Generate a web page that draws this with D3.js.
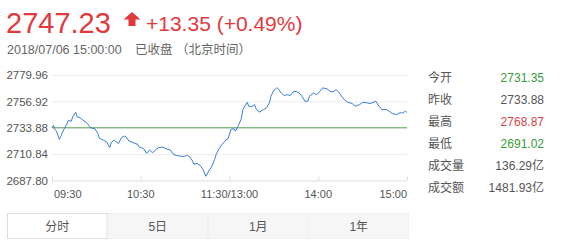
<!DOCTYPE html>
<html>
<head>
<meta charset="utf-8">
<script src="https://cdn.jsdelivr.net/npm/d3@7"></script>
<style>
  body { margin: 0; background: #fff; }
  svg { font-family: Arial, "Liberation Sans", "Noto Sans CJK SC", sans-serif; }
</style>
</head>
<body>
<div id="chart"></div>
<script>
// trading minutes since 09:30 (lunch break removed)
const minutes = [0,1,2,3,5,6,8,10,11,13,14,16,17,19,21,24,26,29,31,32,35,37,39,40,42,44,45,47,49,50,52,54,56,58,59,62,64,66,68,70,72,75,77,80,82,84,86,89,91,93,95,96,98,100,102,104,
  106,108,110,111,113,115,118,119,121,123,124,126,128,129,132,133,135,137,138,140,143,145,147,148,150,152,153,155,157,159,161,163,165,167,169,171,173,174,177,179,181,183,186,188,190,192,194,196,198,200,203,205,208,210,213,215,217,219,221,223,226,228,230,233,235,237,239,240]
const prices = [2733.9,2735.9,2732.4,2730.9,2723.7,2726.6,2732.4,2736.8,2740.2,2739.6,2743.4,2747.4,2743.4,2742.6,2740.5,2737.6,2733.9,2733.0,2728.9,2724.6,2722.9,2721.4,2716.5,2720.8,2723.1,2720.8,2720.2,2725.2,2726.6,2726.1,2722.2,2721.4,2720.2,2719.4,2717.0,2715.6,2711.5,2714.4,2712.1,2714.4,2716.5,2717.0,2715.6,2714.4,2710.7,2709.8,2709.2,2708.7,2709.8,2708.7,2704.9,2702.0,2702.8,2701.1,2697.6,2691.5,
  2696.2,2700.0,2706.3,2710.7,2715.6,2719.4,2723.7,2724.3,2732.4,2733.0,2730.9,2735.9,2741.7,2749.8,2756.1,2752.7,2752.1,2754.1,2750.4,2747.4,2749.8,2751.3,2755.6,2761.4,2766.6,2768.8,2767.8,2764.3,2762.0,2762.8,2762.0,2765.2,2765.7,2764.3,2761.4,2757.0,2757.0,2761.4,2764.3,2762.8,2765.7,2768.7,2767.8,2765.7,2765.2,2767.2,2764.8,2760.8,2757.9,2756.1,2755.0,2752.7,2754.1,2756.1,2755.6,2755.0,2756.1,2757.0,2752.7,2749.8,2749.8,2748.3,2746.3,2745.4,2746.9,2746.9,2748.3,2747.2]

const yTicks = [2687.80, 2710.84, 2733.88, 2756.92, 2779.96]
const prevClose = 2733.88
const xTicks = [0, 60, 120, 180, 240]
const xLabels = ['09:30', '10:30', '11:30/13:00', '14:00', '15:00']

const statLabels = ['今开', '昨收', '最高', '最低', '成交量', '成交额']
const statValues = ['2731.35', '2733.88', '2768.87', '2691.02', '136.29亿', '1481.93亿']
const statColors = ['#3a9a3a', '#555', '#d9434a', '#3a9a3a', '#555', '#555']

const tabs = ['分时', '5日', '1月', '1年']

const W = 569, H = 242
const svg = d3.select('#chart').append('svg')
  .attr('width', W).attr('height', H)

// header
const red = '#e2393e'
svg.append('text').attr('x', 6).attr('y', 33)
  .attr('font-size', 29).attr('fill', red).text('2747.23')
svg.append('path')
  .attr('d', 'M132,12 L140.5,19.5 L135.5,19.5 L135.5,26 L128.5,26 L128.5,19.5 L123.5,19.5 Z')
  .attr('fill', red)
svg.append('text').attr('x', 146).attr('y', 31)
  .attr('font-size', 21).attr('fill', red).text('+13.35 (+0.49%)')
svg.append('text').attr('x', 7).attr('y', 54)
  .attr('font-size', 12.5).attr('fill', '#666')
  .text('2018/07/06 15:00:00')
svg.append('text').attr('x', 135).attr('y', 54)
  .attr('font-size', 12.5).attr('fill', '#666')
  .text('已收盘 （北京时间）')

// scales
const x = d3.scaleLinear().domain([0, 240]).range([52, 407])
const y = d3.scaleLinear().domain([yTicks[0], yTicks[4]]).range([180.5, 75])

// gridlines
svg.append('g')
  .attr('transform', `translate(${x(0)},0)`)
  .call(d3.axisLeft(y).tickValues(yTicks).tickSize(-(x(240) - x(0))).tickFormat(''))
  .call(g => g.select('.domain').remove())
  .call(g => g.selectAll('line').attr('stroke', (d, i) => i == 0 ? '#ddd' : '#ececec'))

// y labels
svg.append('g')
  .attr('transform', `translate(48,0)`)
  .call(d3.axisLeft(y).tickValues(yTicks).tickSize(0).tickPadding(0).tickFormat(d => d.toFixed(2)))
  .call(g => g.select('.domain').remove())
  .call(g => g.selectAll('text').attr('font-size', 11.5).attr('fill', '#555').attr('font-family', null))

// x axis
svg.append('g')
  .attr('transform', `translate(0,${y(yTicks[0])})`)
  .call(d3.axisTop(x).tickValues(xTicks).tickSize(4).tickFormat(''))
  .call(g => g.select('.domain').remove())
  .call(g => g.selectAll('line').attr('stroke', '#ddd'))
svg.append('g').selectAll('text')
  .data(xTicks)
  .join('text')
  .attr('x', d => d == 0 ? x(d) + 2 : x(d))
  .attr('y', 198)
  .attr('text-anchor', (d, i) => i == 0 ? 'start' : (i == 4 ? 'end' : 'middle'))
  .attr('font-size', 11).attr('fill', '#555')
  .text((d, i) => xLabels[i])

// previous close
svg.append('line')
  .attr('x1', x(0)).attr('x2', x(240))
  .attr('y1', y(prevClose)).attr('y2', y(prevClose))
  .attr('stroke', '#5fa55a').attr('stroke-width', 1)

// price line
const line = d3.line().x(d => x(d[0])).y(d => y(d[1]))
svg.append('path')
  .datum(minutes.map((m, i) => [m, prices[i]]))
  .attr('d', line)
  .attr('fill', 'none')
  .attr('stroke', '#3b7dd8')
  .attr('stroke-width', 1)

// stats panel
const rows = svg.append('g').selectAll('g')
  .data(statLabels)
  .join('g')
  .attr('transform', (d, i) => `translate(0,${81.5 + i * 22})`)
rows.append('text').attr('x', 428).attr('font-size', 12).attr('fill', '#555').text(d => d)
rows.append('text').attr('x', 544).attr('text-anchor', 'end').attr('font-size', 12)
  .attr('fill', (d, i) => statColors[i]).text((d, i) => statValues[i])

// tabs
const tw = 100.5
const tg = svg.append('g').selectAll('g')
  .data(tabs)
  .join('g')
  .attr('transform', (d, i) => `translate(${7 + i * tw},213)`)
tg.append('rect')
  .attr('x', 0.5).attr('y', 0.5)
  .attr('width', tw - 1).attr('height', 25)
  .attr('fill', (d, i) => i == 0 ? '#fff' : '#f6f6f6')
  .attr('stroke', (d, i) => i == 0 ? '#ddd' : '#f0f0f0')
tg.append('text')
  .attr('x', tw / 2).attr('y', 17.5)
  .attr('text-anchor', 'middle')
  .attr('font-size', 12).attr('fill', '#555')
  .text(d => d)
</script>
</body>
</html>
